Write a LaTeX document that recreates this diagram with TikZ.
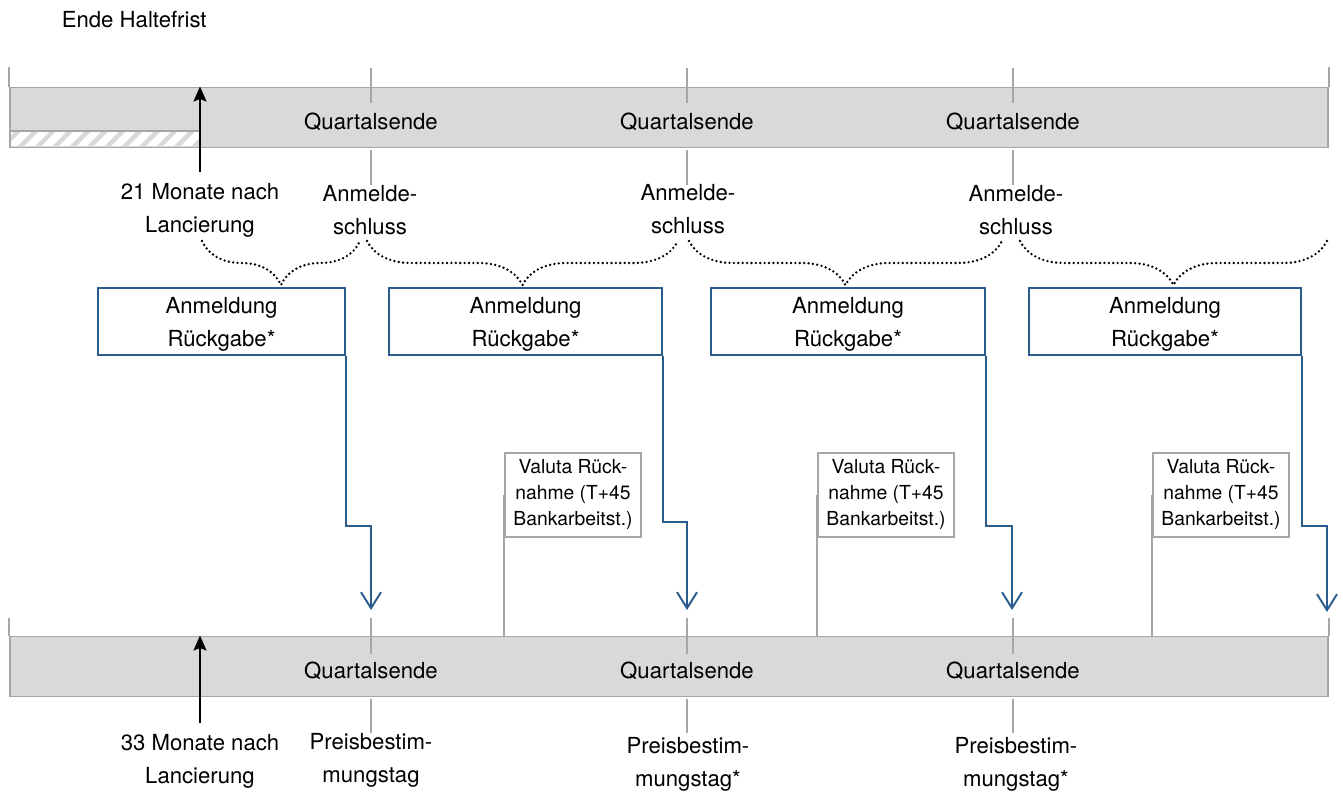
\documentclass[tikz,border=0pt]{standalone}
\usepackage{fontspec}
\setmainfont{TeX Gyre Heros}
\usepackage{xcolor}
\usepackage{tikz}
\usetikzlibrary{arrows.meta, decorations.pathreplacing, patterns.meta}
\definecolor{barFill}{RGB}{217,217,217}
\definecolor{barLine}{RGB}{166,166,166}
\definecolor{regBlue}{RGB}{41,92,140}

\begin{document}
\begin{tikzpicture}[x = 0.02cm, y = -0.02cm,
    every node/.style = {font = \fontsize{12.6}{18.8}\selectfont,
      align = center, inner sep = 2pt},
    bar/.style      = {draw = barLine, fill = barFill, line width = 1.1pt,
      minimum width = 26.36cm, minimum height = 1.2cm, inner sep = 0pt},
    qtick/.style    = {draw = barLine, line width = 1pt},
    regbox/.style   = {draw = regBlue, line width = 1.2pt,
      minimum height = 1.34cm, inner sep = 0pt, text depth = 0pt},
    valbox/.style   = {draw = barLine, line width = 1pt,
      font = \fontsize{11}{14.8}\selectfont,
      minimum width = 2.72cm, minimum height = 1.68cm, inner sep = 0pt},
    regarrow/.style = {draw = regBlue, line width = 1.1pt,
      -{Straight Barb[length=3.2mm,width=4mm]}},
    lanarrow/.style = {line width = 1.1pt,
      -{Stealth[length=3mm,width=2.6mm,inset=0.5mm]}},
    brc/.style      = {decorate, decoration = {brace, mirror, amplitude = 0.88cm},
      line width = 1.5pt, dash pattern = on 0pt off 2.5pt, line cap = round},
  ]
  \useasboundingbox (0,0) rectangle (1343,793);

  % the two time bars
  \node[bar] (topBar) at (669,117.5) {};
  \node[bar] (botBar) at (669,666.5) {};
  \fill[white] (11,131) rectangle (201,146.5);
  \fill[pattern = {Lines[angle=45,distance=7pt,line width=2.6pt]},
    pattern color = barFill] (11,131) rectangle (201,146.5);
  \draw[qtick] (11,131) -- (201,131);

  \draw[qtick] (topBar.north west) -- ++(0,-20)
               (topBar.north east) -- ++(0,-20)
               (botBar.north west) -- ++(0,-18)
               (botBar.north east) -- ++(0,-18);

  \foreach \x [count=\i] in {371,687,1013} {
    \node (qTop\i) at (\x,122) {Quartalsende};
    \node (qBot\i) at (\x,671) {Quartalsende};
    \draw[qtick] (\x,68) -- (\x,103) (\x,150) -- (\x,185);
    \draw[qtick] (\x,618) -- (\x,654) (\x,699) -- (\x,733);
  }

  \node[anchor = west] (endHalt) at (58,20) {Ende Haltefrist};

  % labels under the bars
  \node (lanTop) at (200,210) {21 Monate nach\\Lancierung};
  \node (anm1) at (370,210) {Anmelde-\\schluss};
  \node (anm2) at (688,209) {Anmelde-\\schluss};
  \node (anm3) at (1016,210) {Anmelde-\\schluss};
  \node (lanBot) at (200,761) {33 Monate nach\\Lancierung};
  \node (preis1) at (371,760) {Preisbestim-\\mungstag};
  \node (preis2) at (688,764) {Preisbestim-\\mungstag*};
  \node (preis3) at (1016,764) {Preisbestim-\\mungstag*};

  \draw[lanarrow] ([yshift=4pt]lanTop.north) -- (lanTop.north |- topBar.north);
  \draw[lanarrow] ([yshift=4pt]lanBot.north) -- (lanBot.north |- botBar.north);

  % braces
  \coordinate (brA1) at (202,241);  \coordinate (brA2) at (360,241);
  \coordinate (brB1) at (367,241);  \coordinate (brB2) at (678,241);
  \coordinate (brC1) at (689,241);  \coordinate (brC2) at (1002,241);
  \coordinate (brD1) at (1020,241); \coordinate (brD2) at (1327,241);
  \draw[brc] (brA1) -- (brA2);
  \draw[brc] (brB1) -- (brB2);
  \draw[brc] (brC1) -- (brC2);
  \draw[brc] (brD1) -- (brD2);

  % Anmeldung boxes
  \node[regbox, minimum width = 4.94cm] (reg1) at (221.5,321.5) {Anmeldung\\Rückgabe*};
  \node[regbox, minimum width = 5.46cm] (reg2) at (525.5,321.5) {Anmeldung\\Rückgabe*};
  \node[regbox, minimum width = 5.48cm] (reg3) at (848,321.5) {Anmeldung\\Rückgabe*};
  \node[regbox, minimum width = 5.44cm] (reg4) at (1165,321.5) {Anmeldung\\Rückgabe*};

  \coordinate (hit1) at (371,610);
  \coordinate (hit2) at (687,610);
  \coordinate (hit3) at (1012,610);
  \coordinate (hit4) at (1327,612);
  \draw[regarrow] (reg1.south east) -- ++(0,170) -| (hit1);
  \draw[regarrow] (reg2.south east) -- ++(0,166) -| (hit2);
  \draw[regarrow] (reg3.south east) -- ++(0,170) -| (hit3);
  \draw[regarrow] (reg4.south east) -- ++(0,170) -| (hit4);

  % Valuta boxes
  \node[valbox] (val1) at (573,495) {Valuta Rück-\\nahme (T+45\\Bankarbeitst.)};
  \node[valbox] (val2) at (886,495) {Valuta Rück-\\nahme (T+45\\Bankarbeitst.)};
  \node[valbox] (val3) at (1221,495) {Valuta Rück-\\nahme (T+45\\Bankarbeitst.)};
  \draw[qtick] (val1.west) -- (val1.west |- botBar.north);
  \draw[qtick] (val2.west) -- (val2.west |- botBar.north);
  \draw[qtick] (val3.west) -- (val3.west |- botBar.north);
\end{tikzpicture}
\end{document}
